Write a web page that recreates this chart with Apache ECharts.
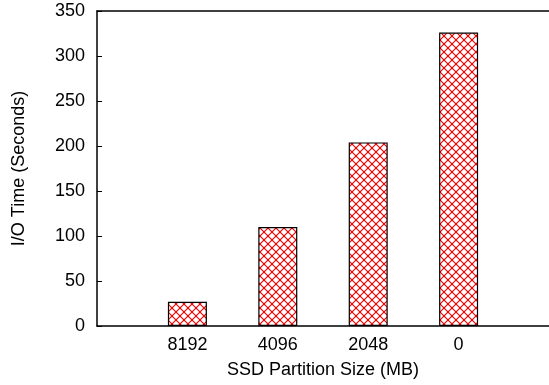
<!DOCTYPE html>
<html>
<head>
<meta charset="utf-8">
<script src="https://cdn.jsdelivr.net/npm/echarts@6/dist/echarts.min.js"></script>
<style>
html,body{margin:0;padding:0;background:#fff;}
#chart{width:549px;height:385px;}
</style>
</head>
<body>
<div id="chart"></div>
<script>
var categories = ['8192', '4096', '2048', '0'];
var ioTime = [27, 110, 204, 326];
var yTicks = [0, 50, 100, 150, 200, 250, 300, 350];

// pad with empty slots on both sides so bars sit at positions 1..4 of 0..5
var xCats = [''].concat(categories).concat(['']);
var xVals = [null].concat(ioTime).concat([null]);

function makeHatch() {
  var p = 8;
  var c = document.createElement('canvas');
  c.width = p; c.height = p;
  var ctx = c.getContext('2d');
  ctx.fillStyle = '#ffffff';
  ctx.fillRect(0, 0, p, p);
  var img = ctx.getImageData(0, 0, p, p);
  for (var y = 0; y < p; y++) {
    for (var x = 0; x < p; x++) {
      var a = ((x - y) % p + p) % p;
      var b = (x + y) % p;
      var idx = (y * p + x) * 4;
      if (a === 0 || b === p - 1) {
        img.data[idx] = 255; img.data[idx + 1] = 0; img.data[idx + 2] = 0;
      } else if (a === 1 || a === p - 1 || b === 0 || b === p - 2) {
        img.data[idx] = 255; img.data[idx + 1] = 185; img.data[idx + 2] = 185;
      }
    }
  }
  ctx.putImageData(img, 0, 0);
  return c;
}

var chart = echarts.init(document.getElementById('chart'), null, {renderer: 'canvas'});
var font = 'Liberation Sans';
chart.setOption({
  backgroundColor: '#ffffff',
  animation: false,
  grid: {left: 97, right: 0, top: 11, bottom: 59, containLabel: false, outerBoundsMode: 'none'},
  xAxis: [{
    type: 'category',
    data: xCats,
    boundaryGap: false,
    name: 'SSD Partition Size (MB)',
    nameLocation: 'middle',
    nameGap: 35,
    nameTextStyle: {fontFamily: font, fontSize: 18, color: '#000'},
    axisLine: {show: true, lineStyle: {color: '#000', width: 1.5}},
    axisTick: {show: false},
    axisLabel: {interval: 0, fontFamily: font, fontSize: 18, color: '#000', margin: 10},
    splitLine: {show: false}
  }, {
    type: 'category',
    data: xCats,
    boundaryGap: false,
    position: 'top',
    axisLine: {show: true, lineStyle: {color: '#000', width: 1.5}},
    axisTick: {show: false},
    axisLabel: {show: false},
    splitLine: {show: false}
  }],
  yAxis: {
    type: 'value',
    min: yTicks[0],
    max: yTicks[yTicks.length - 1],
    interval: 50,
    name: 'I/O Time (Seconds)',
    nameLocation: 'middle',
    nameGap: 69,
    nameTextStyle: {fontFamily: font, fontSize: 18, color: '#000'},
    axisLine: {show: true, lineStyle: {color: '#000', width: 1.5}},
    axisTick: {show: true, inside: true, length: 5, lineStyle: {color: '#000', width: 1}},
    axisLabel: {fontFamily: font, fontSize: 18, color: '#000', margin: 12},
    splitLine: {show: false}
  },
  series: [{
    type: 'bar',
    data: xVals,
    barWidth: 39,
    itemStyle: {
      color: {image: makeHatch(), repeat: 'repeat'},
      borderColor: '#000',
      borderWidth: 1.2
    }
  }]
});
</script>
</body>
</html>
